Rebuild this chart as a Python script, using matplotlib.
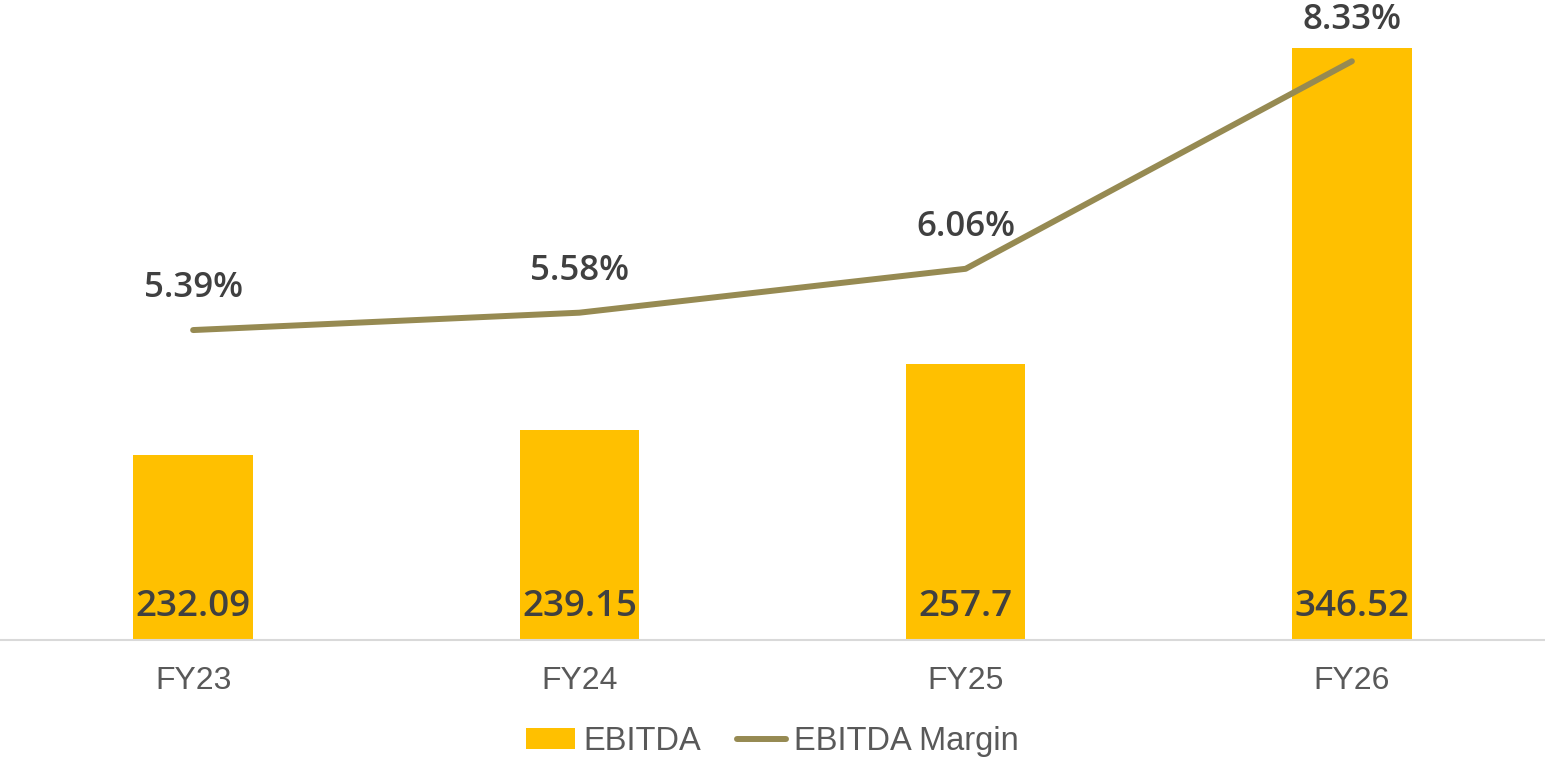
import matplotlib.pyplot as plt

# data
years = ['FY23', 'FY24', 'FY25', 'FY26']
ebitda = [232.09, 239.15, 257.7, 346.52]
margin = [5.39, 5.58, 6.06, 8.33]
ebitda_labels = ['232.09', '239.15', '257.7', '346.52']
margin_labels = ['5.39%', '5.58%', '6.06%', '8.33%']

bar_color = '#FFC000'
line_color = '#968A52'
label_color = '#404040'
tick_color = '#595959'

plt.rcParams['font.family'] = ['Liberation Sans', 'DejaVu Sans']

fig = plt.figure(figsize=(15.45, 7.62), dpi=100)
ax = fig.add_axes([0, 0.1601, 1, 0.8399])
x = list(range(len(years)))

bars = ax.bar(x, ebitda, width=0.31, color=bar_color, label='EBITDA', zorder=2)
ax.set_xlim(-0.5, 3.5)
ax.set_ylim(180, 360)

for xi, lab in zip(x, ebitda_labels):
    ax.annotate(lab, (xi, 180), xytext=(0, 24), textcoords='offset points',
                ha='center', va='center', fontsize=26.5, color=label_color,
                family='Open Sans', fontweight='semibold', zorder=5)

for s in ['top', 'right', 'left']:
    ax.spines[s].set_visible(False)
ax.spines['bottom'].set_color('#D9D9D9')
ax.spines['bottom'].set_linewidth(1.5)
ax.set_yticks([])
ax.set_xticks(x)
ax.set_xticklabels(years, fontsize=23, color=tick_color)
ax.tick_params(axis='x', length=0, pad=19)

ax2 = ax.twinx()
ax2.set_ylim(2, 9)
line, = ax2.plot(x, margin, color=line_color, linewidth=4.3,
                 solid_capstyle='round', label='EBITDA Margin', zorder=3)
for xi, v, lab in zip(x, margin, margin_labels):
    ax2.annotate(lab, (xi, v), xytext=(0, 30), textcoords='offset points',
                 ha='center', va='center', fontsize=25, color=label_color,
                 family='Open Sans', fontweight='semibold')
for s in ['top', 'right', 'left', 'bottom']:
    ax2.spines[s].set_visible(False)
ax2.set_yticks([])

fig.legend([bars, line], ['EBITDA', 'EBITDA Margin'], loc='lower center',
           bbox_to_anchor=(0.5, -0.032), ncol=2, frameon=False, fontsize=23.5,
           labelcolor=tick_color, handlelength=1.5, handleheight=0.62,
           handletextpad=0.25, columnspacing=1.1)

plt.savefig('out.png', dpi=100)
